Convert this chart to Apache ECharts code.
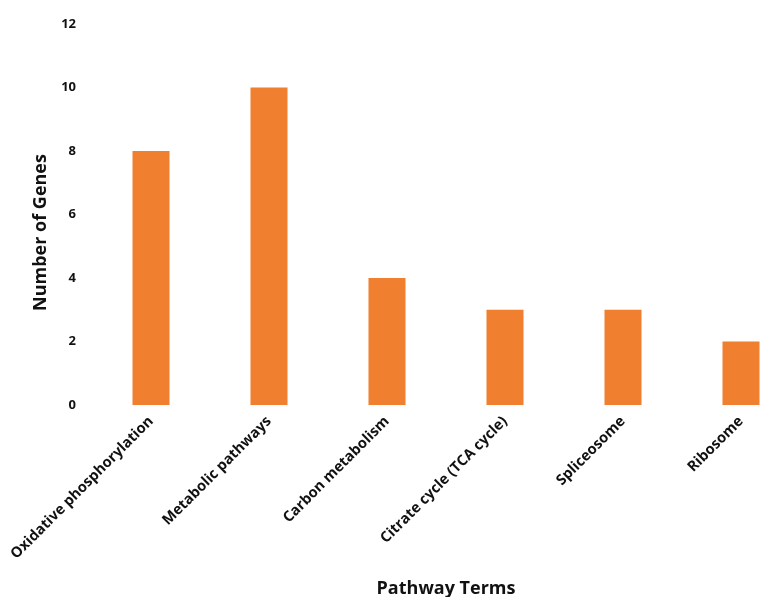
<!DOCTYPE html>
<html><head><meta charset="utf-8">
<script src="https://cdn.jsdelivr.net/npm/echarts@6/dist/echarts.min.js"></script>
<style>html,body{margin:0;padding:0;background:#fff}#c{width:766px;height:597px}</style>
</head><body><div id="c"></div>
<script>
const categories = ["Oxidative phosphorylation","Metabolic pathways","Carbon metabolism","Citrate cycle (TCA cycle)","Spliceosome","Ribosome"];
const geneCounts = [8,10,4,3,3,2];
const yTicks = [0,2,4,6,8,10,12];

const chart = echarts.init(document.getElementById('c'));
chart.setOption({
  animation:false,
  backgroundColor:'#fff',
  grid:{left:92,right:-34,top:24,bottom:192,containLabel:false,outerBoundsMode:'none'},
  xAxis:{
    type:'category',data:categories,
    axisLine:{show:false},axisTick:{show:false},
    axisLabel:{rotate:45,interval:0,margin:14,color:'#111',fontFamily:'Open Sans',fontWeight:700,fontSize:14.6},
    name:'Pathway Terms',nameLocation:'middle',nameGap:175,
    nameTextStyle:{color:'#111',fontFamily:'Open Sans',fontWeight:700,fontSize:18}
  },
  yAxis:{
    type:'value',min:yTicks[0],max:yTicks[yTicks.length-1],interval:2,
    axisLine:{show:false},axisTick:{show:false},splitLine:{show:false},
    axisLabel:{color:'#111',fontFamily:'Open Sans',fontWeight:700,fontSize:13,margin:16},
    name:'Number of Genes',nameLocation:'middle',nameGap:42,
    nameTextStyle:{color:'#111',fontFamily:'Open Sans',fontWeight:700,fontSize:18,padding:[0,36,0,0]}
  },
  series:[{type:'bar',data:geneCounts,barWidth:37,itemStyle:{color:'#F07F2F'}}]
});
</script></body></html>
